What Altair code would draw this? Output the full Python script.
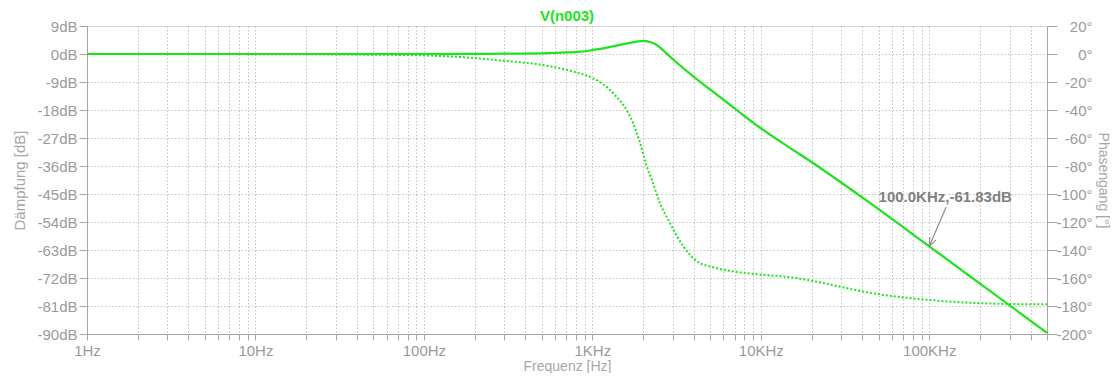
import altair as alt
import pandas as pd

# ---- data ----
mag_freq = [1, 10, 100, 200, 300, 561, 847, 1012, 1159, 1603, 2013, 2204, 2415, 2644,
            2896, 3970, 5000, 6295, 7550, 9910, 14000, 20100, 40000, 100000, 200000, 500000]
mag_db = [0, 0, 0, 0.05, 0.1, 0.3, 0.75, 1.3, 1.8, 3.4, 4.2, 3.85, 2.9, 1.1,
          -0.9, -7.2, -11.4, -15.55, -18.9, -23.7, -29.2, -34.8, -46.1, -61.83, -73.8, -89.6]

ph_freq = [1, 10, 50, 100, 180, 295, 510, 769, 1012, 1330, 1746, 1923, 2106, 2256,
           2530, 2897, 3478, 4177, 5488, 7550, 8650, 17100, 20100, 46700, 100000,
           303000, 500000]
ph_deg = [0, -0.1, -0.5, -1.0, -2.5, -4.8, -7.9, -12.6, -17.4, -28, -49.5, -63.8,
          -80.5, -90, -107, -121, -137.6, -148, -153, -156, -156.8, -160.5, -162,
          -171, -175.7, -178.6, -178.8]

x_label_values = [1, 10, 100, 1000, 10000, 100000]
x_labels = ["1Hz", "10Hz", "100Hz", "1KHz", "10KHz", "100KHz"]
x_tick_values = [m * d for d in [1, 10, 100, 1000, 10000] for m in range(1, 10)] + \
                [100000, 200000, 300000, 400000, 500000]
db_ticks = list(range(-90, 10, 9))
deg_ticks = list(range(-200, 21, 20))

trace_name = ["V(n003)"]

ann_freq = [100000]
ann_db = [-61.83]
ann_label = ["100.0KHz,-61.83dB"]
ann_tail_freq = [126000]
ann_tail_db = [-49.2]

# ---- styling ----
GREEN = "#19e619"
GREY = "#a6a6a6"
LABEL = "#9a9a9a"
FONT = "Liberation Sans"
W, H = 960, 308

mag_df = pd.DataFrame({"freq": mag_freq, "db": mag_db})
ph_df = pd.DataFrame({"freq": ph_freq, "deg": ph_deg})
ann_df = pd.DataFrame({"freq": ann_freq, "db": ann_db, "label": ann_label,
                       "freq2": ann_tail_freq, "db2": ann_tail_db})
title_df = pd.DataFrame({"name": trace_name})

label_expr = " : ".join(
    f"datum.value == {v} ? '{t}'" for v, t in zip(x_label_values, x_labels)
) + " : ''"

x_scale = alt.Scale(type="log", domain=[1, 500000], nice=False)
x_axis = alt.Axis(values=x_tick_values, labelExpr=label_expr, title="Frequenz [Hz]",
                  grid=True, gridDash=[1.5, 2], gridColor="#c4c4c4",
                  tickSize=6, labelPadding=3, labelFontSize=15, labelColor=LABEL,
                  labelFont=FONT, titleFont=FONT, titleFontSize=14, titleColor=GREY,
                  titleFontWeight="normal", titleY=32, titleBaseline="middle",
                  domainColor=GREY, tickColor=GREY, labelFlush=False, labelOverlap=False)
x_enc = alt.X("freq:Q", scale=x_scale, axis=x_axis)

y_scale = alt.Scale(domain=[-90, 9], nice=False, zero=False)
y_axis = alt.Axis(values=db_ticks, labelExpr="datum.value + 'dB'", title="Dämpfung [dB]",
                  grid=True, gridDash=[1.5, 2], gridColor="#c4c4c4",
                  tickSize=8, labelPadding=2, labelFontSize=15, labelColor=LABEL,
                  labelFont=FONT, titleFont=FONT, titleFontSize=15, titleColor=GREY,
                  titleFontWeight="normal", titleX=-68, titleY=H / 2, titleBaseline="middle",
                  domainColor=GREY, tickColor=GREY)
y_enc = alt.Y("db:Q", scale=y_scale, axis=y_axis)

mag = alt.Chart(mag_df).mark_line(color=GREEN, strokeWidth=2.2, interpolate="monotone").encode(
    x=x_enc, y=y_enc
)

rule = alt.Chart(ann_df).mark_rule(color="#8c8c8c", strokeWidth=1.2).encode(
    x=x_enc, y=y_enc, x2="freq2:Q", y2="db2:Q"
)
head = alt.Chart(ann_df).mark_point(
    shape="M -0.4 -1 L 0 0 L 0.4 -1", filled=False, color="#8c8c8c",
    strokeWidth=1.2, size=300, angle=24, opacity=1
).encode(x=x_enc, y=y_enc)
text = alt.Chart(ann_df).mark_text(
    font=FONT, fontSize=15, fontWeight="bold", color="#808080",
    align="center", baseline="middle", dx=16, dy=-49
).encode(x=x_enc, y=y_enc, text="label:N")

title_mark = alt.Chart(title_df).mark_text(
    font=FONT, fontSize=15, fontWeight="bold", color=GREEN,
    align="center", baseline="middle"
).encode(x=alt.value(W / 2), y=alt.value(-10), text="name:N")

phase = alt.Chart(ph_df).mark_line(color=GREEN, strokeWidth=2, strokeDash=[2, 2],
                                   interpolate="monotone").encode(
    x=x_enc,
    y=alt.Y("deg:Q", scale=alt.Scale(domain=[-200, 20], nice=False, zero=False),
            axis=alt.Axis(orient="right", values=deg_ticks, labelExpr="datum.value + '°'",
                          title="Phasengang [°]", grid=False, tickSize=10, labelPadding=35,
                          labelAlign="right", labelFontSize=15, labelColor=LABEL,
                          labelFont=FONT, titleFont=FONT, titleFontSize=14,
                          titleColor=GREY, titleFontWeight="normal", titleX=55, titleY=H / 2,
                          titleBaseline="middle", domainColor=GREY, tickColor=GREY))
)

left = alt.layer(mag, rule, head, text, title_mark)

chart = alt.layer(left, phase).resolve_scale(y="independent").properties(
    width=W, height=H,
    autosize=alt.AutoSizeParams(type="none"),
    padding={"left": 79, "top": 18, "right": 63, "bottom": 39},
).configure_view(stroke=GREY, strokeWidth=1).configure(background="white")

chart.save("out.html", embed_options={"renderer": "svg", "actions": False})
